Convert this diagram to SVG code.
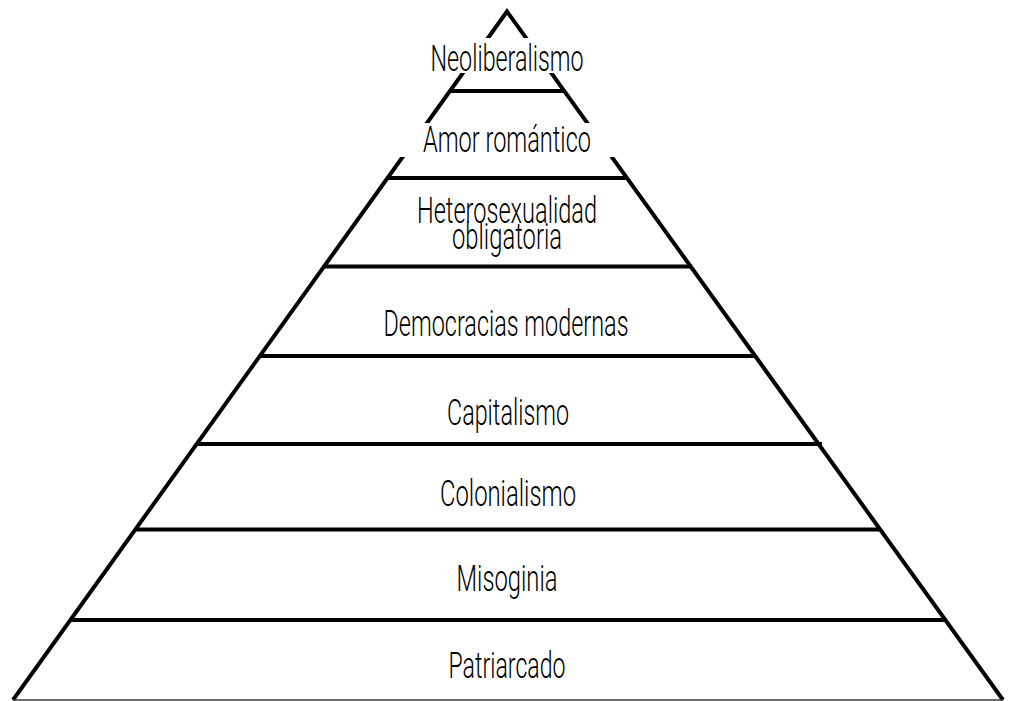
<svg xmlns="http://www.w3.org/2000/svg" width="1010" height="701" viewBox="0 0 1010 701">
  <style>
    .edge { fill: none; stroke: #000; stroke-width: 4; stroke-linejoin: miter; stroke-miterlimit: 10; }
    .tier { stroke: #000; stroke-width: 4; }
    .base { stroke: #3a3a3a; stroke-width: 1.6; }
    .lbl { font-family: "Roboto", "Liberation Sans", "DejaVu Sans", sans-serif; font-weight: 300; font-size: 36px; fill: #000; text-anchor: middle; }
    .bg { fill: #fff; }
  </style>
  <rect x="0" y="0" width="1010" height="701" fill="#fff"/>
  <g id="connectors">
    <path class="edge" d="M13,700 L507,11.5 L1003,700"/>
    <line class="tier" x1="450" y1="91" x2="565" y2="91"/>
    <line class="tier" x1="387" y1="178" x2="628" y2="178"/>
    <line class="tier" x1="323" y1="266.5" x2="692" y2="266.5"/>
    <line class="tier" x1="260" y1="356" x2="756" y2="356"/>
    <line class="tier" x1="196" y1="444" x2="822" y2="444"/>
    <line class="tier" x1="135" y1="529.5" x2="880" y2="529.5"/>
    <line class="tier" x1="70" y1="620" x2="945" y2="620"/>
    <line class="base" x1="13" y1="700" x2="1003" y2="700"/>
  </g>
  <g id="neoliberalismo">
    <rect class="bg" x="425" y="38" width="166" height="35"/>
    <text class="lbl" x="507" y="71" textLength="153" lengthAdjust="spacingAndGlyphs">Neoliberalismo</text>
  </g>
  <g id="amor-romantico">
    <rect class="bg" x="398" y="123" width="218" height="34"/>
    <text class="lbl" x="507" y="152" textLength="168" lengthAdjust="spacingAndGlyphs">Amor romántico</text>
  </g>
  <g id="heterosexualidad">
    <text class="lbl" x="507" y="223" textLength="180" lengthAdjust="spacingAndGlyphs">Heterosexualidad</text>
    <text class="lbl" x="507" y="249" textLength="110" lengthAdjust="spacingAndGlyphs">obligatoria</text>
  </g>
  <g id="democracias">
    <text class="lbl" x="506" y="336" textLength="245" lengthAdjust="spacingAndGlyphs">Democracias modernas</text>
  </g>
  <g id="capitalismo">
    <text class="lbl" x="508" y="425" textLength="122" lengthAdjust="spacingAndGlyphs">Capitalismo</text>
  </g>
  <g id="colonialismo">
    <text class="lbl" x="508" y="506" textLength="136" lengthAdjust="spacingAndGlyphs">Colonialismo</text>
  </g>
  <g id="misoginia">
    <text class="lbl" x="507" y="591" textLength="101" lengthAdjust="spacingAndGlyphs">Misoginia</text>
  </g>
  <g id="patriarcado">
    <text class="lbl" x="507" y="678" textLength="117" lengthAdjust="spacingAndGlyphs">Patriarcado</text>
  </g>
</svg>
